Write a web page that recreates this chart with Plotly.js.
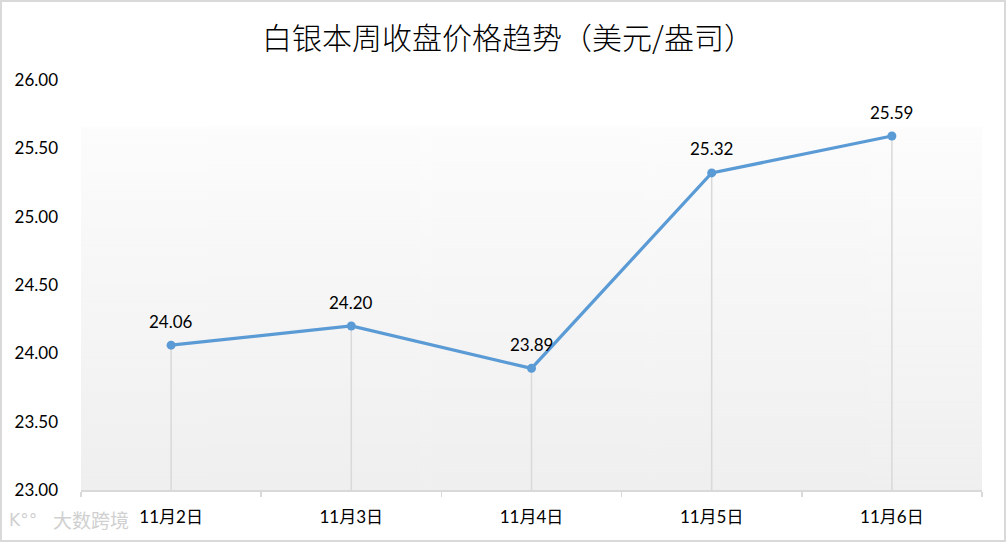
<!DOCTYPE html>
<html>
<head>
<meta charset="utf-8">
<script src="https://cdn.plot.ly/plotly-3.0.1.min.js"></script>
<style>
  html, body { margin: 0; padding: 0; background: #fff; }
  #wrap { position: relative; width: 1006px; height: 542px; }
  #chart { width: 1006px; height: 542px; }
  #frame { position: absolute; left: 0; top: 0; width: 1006px; height: 542px; box-sizing: border-box; border: 2px solid #d9d9d9; pointer-events: none; }
</style>
</head>
<body>
<div id="wrap">
  <div id="chart"></div>
  <div id="frame"></div>
</div>
<script>
const categories = ["11月2日", "11月3日", "11月4日", "11月5日", "11月6日"];
const prices = [24.06, 24.20, 23.89, 25.32, 25.59];
const labels = ["24.06", "24.20", "23.89", "25.32", "25.59"];
const yMin = 23.0;
const yMax = 26.0;
const titleText = "白银本周收盘价格趋势（美元/盎司）";
const watermark = "大数跨境";

// gradient background image
const cv = document.createElement("canvas");
cv.width = 4; cv.height = 410;
const ctx = cv.getContext("2d");
const g = ctx.createLinearGradient(0, 0, 0, 410);
g.addColorStop(0, "#ffffff");
g.addColorStop(0.11, "#ffffff");
g.addColorStop(0.12, "#fcfcfc");
g.addColorStop(1, "#efefef");
ctx.fillStyle = g;
ctx.fillRect(0, 0, 4, 410);
const bgURL = cv.toDataURL("image/png");

const font = "Lato, 'Noto Sans CJK SC', sans-serif";

const dropTrace = {
  x: categories,
  y: prices,
  type: "scatter",
  mode: "markers",
  marker: { size: 1, opacity: 0 },
  hoverinfo: "skip",
  showlegend: false,
  error_y: {
    type: "data",
    symmetric: false,
    array: prices.map(() => 0),
    arrayminus: prices.map(v => v - yMin),
    color: "#d9d9d9",
    thickness: 1.5,
    width: 0
  }
};

const lineTrace = {
  x: categories,
  y: prices,
  type: "scatter",
  mode: "lines+markers",
  line: { color: "#5b9bd5", width: 3.25 },
  marker: { color: "#5b9bd5", size: 9 },
  showlegend: false
};

const annotations = categories.map((c, i) => ({
  x: c, y: prices[i], xref: "x", yref: "y",
  text: labels[i], showarrow: false, yshift: 24,
  font: { family: font, size: 17, color: "#000000" }
}));
annotations.push({
  xref: "paper", yref: "paper", x: -0.033, y: -0.073,
  xanchor: "left", yanchor: "middle",
  text: watermark, showarrow: false,
  font: { family: "'Noto Sans CJK SC', sans-serif", size: 19, color: "#d0d0d0" }
});
annotations.push({
  xref: "paper", yref: "paper", x: -0.082, y: -0.073,
  xanchor: "left", yanchor: "middle",
  text: "K°°", showarrow: false,
  font: { family: "'DejaVu Sans', sans-serif", size: 17, color: "#d0d0d0" }
});

const layout = {
  width: 1006,
  height: 542,
  margin: { l: 81, r: 24, t: 80, b: 52, pad: 0 },
  paper_bgcolor: "#ffffff",
  plot_bgcolor: "rgba(0,0,0,0)",
  title: {
    text: titleText,
    x: 0.505, xref: "container", xanchor: "center",
    y: 1 - 38 / 542, yref: "container", yanchor: "middle",
    font: { family: "'Noto Sans CJK SC', sans-serif", size: 30, weight: 300, color: "#000000" }
  },
  xaxis: {
    type: "category",
    range: [-0.5, categories.length - 0.5],
    tickson: "boundaries",
    ticks: "outside",
    ticklen: 5,
    tickcolor: "#d9d9d9",
    tickwidth: 1.5,
    showline: true,
    linecolor: "#d9d9d9",
    linewidth: 1.5,
    showgrid: false,
    zeroline: false,
    ticklabelstandoff: 11,
    tickfont: { family: font, size: 17, color: "#000000" }
  },
  yaxis: {
    range: [yMin, yMax],
    dtick: 0.5,
    tick0: yMin,
    tickformat: ".2f",
    showgrid: false,
    zeroline: false,
    showline: false,
    ticks: "",
    ticklabelstandoff: 22,
    tickfont: { family: font, size: 17, color: "#000000" }
  },
  images: [{
    source: bgURL,
    xref: "paper", yref: "paper",
    x: 0, y: 1, sizex: 1, sizey: 1,
    xanchor: "left", yanchor: "top",
    sizing: "stretch",
    layer: "below"
  }],
  annotations: annotations
};

Plotly.newPlot("chart", [dropTrace, lineTrace], layout, { displayModeBar: false, staticPlot: true });
</script>
</body>
</html>
